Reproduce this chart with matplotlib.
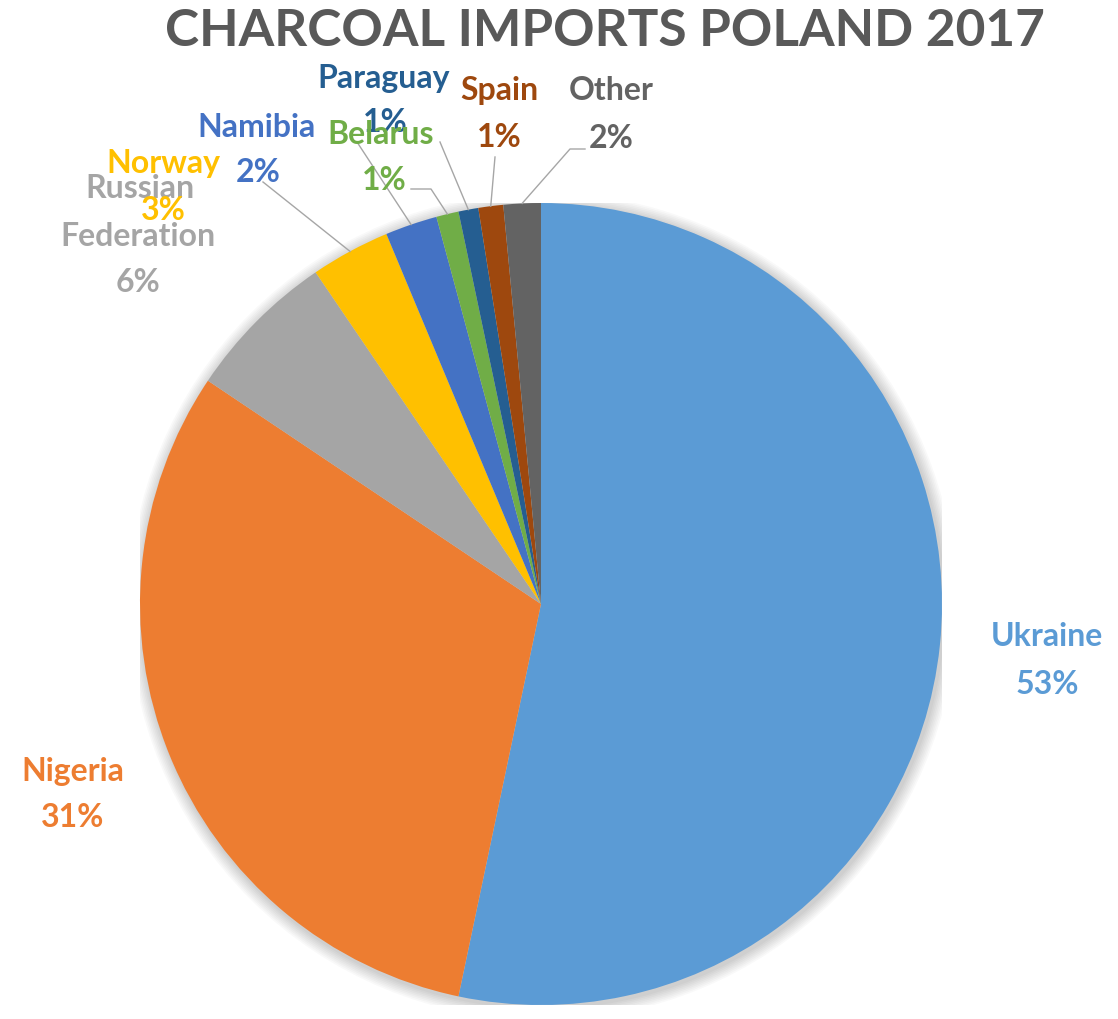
import numpy as np
import matplotlib
matplotlib.use('Agg')
import matplotlib.pyplot as plt
from matplotlib.patches import Circle

# data (percent of imports)
countries = ['Ukraine', 'Nigeria', 'Russian Federation', 'Norway', 'Namibia',
             'Belarus', 'Paraguay', 'Spain', 'Other']
shares = [53.3, 31.1, 6.1, 3.2, 2.1, 0.9, 0.8, 1.0, 1.5]
pct_labels = ['53%', '31%', '6%', '3%', '2%', '1%', '1%', '1%', '2%']
colors = ['#5B9BD5', '#ED7D31', '#A5A5A5', '#FFC000', '#4472C4',
          '#70AD47', '#255E91', '#9E480E', '#636363']

plt.rcParams['font.family'] = ['Lato', 'DejaVu Sans']

W, H = 1118, 1020
cx, cy, R = 541, 605, 401
fig = plt.figure(figsize=(W / 100, H / 100), dpi=100)
ax = fig.add_axes([(cx - R) / W, (H - cy - R) / H, 2 * R / W, 2 * R / H])


def px(x, y):
    # pixel position in the picture -> data coords of the pie axes
    return (x - cx) / R, (cy - y) / R


# soft shadow around the pie
for i in range(8):
    ax.add_patch(Circle((0.004, -0.006), 1.0 + 0.004 * (i + 1), color='black',
                        alpha=0.025, lw=0, zorder=0))

wedges, _ = ax.pie(shares, colors=colors, startangle=90, counterclock=False,
                   radius=1, wedgeprops=dict(linewidth=0), frame=False)
for w in wedges:
    w.set_zorder(2)
ax.set_xlim(-1, 1)
ax.set_ylim(-1, 1)
ax.axis('off')

# label text positions (pixel centres of name and percent lines)
label_pos = {
    'Ukraine': [('Ukraine', 1047, 636), ('53%', 1047, 685)],
    'Nigeria': [('Nigeria', 73, 772), ('31%', 73, 818)],
    'Russian Federation': [('Russian', 140, 188), ('Federation', 138, 237), ('6%', 138, 282)],
    'Norway': [('Norway', 163, 163), ('3%', 163, 210)],
    'Namibia': [('Namibia', 256, 127), ('2%', 258, 172)],
    'Paraguay': [('Paraguay', 384, 78), ('1%', 385, 123)],
    'Belarus': [('Belarus', 381, 134), ('1%', 384, 181)],
    'Spain': [('Spain', 499, 91), ('1%', 499, 137)],
    'Other': [('Other', 611, 91), ('2%', 611, 139)],
}
draw_order = ['Ukraine', 'Nigeria', 'Russian Federation', 'Norway', 'Namibia',
              'Paraguay', 'Belarus', 'Spain', 'Other']
for name in draw_order:
    c = colors[countries.index(name)]
    for txt, x, y in label_pos[name]:
        tx, ty = px(x, y)
        ax.text(tx, ty, txt, color=c, fontsize=23, fontweight='bold',
                ha='center', va='center', clip_on=False, zorder=5)

# leader lines: start near the label, end at the wedge's outer midpoint
leader_start = {
    'Norway': [(263, 183)],
    'Namibia': [(357, 143)],
    'Belarus': [(411, 190), (431, 190)],
    'Paraguay': [(440, 143)],
    'Spain': [(495, 158)],
    'Other': [(585, 150), (570, 150)],
}
cum = np.cumsum([0] + shares)
for name, pts in leader_start.items():
    i = countries.index(name)
    mid = (cum[i] + cum[i + 1]) / 2 / sum(shares) * 360
    ang = np.deg2rad(90 - mid)
    xs = [px(x, y)[0] for x, y in pts] + [np.cos(ang)]
    ys = [px(x, y)[1] for x, y in pts] + [np.sin(ang)]
    ax.plot(xs, ys, color='#A6A6A6', lw=1, clip_on=False, zorder=4)

fig.text(605 / W, 1 - 31 / H, 'CHARCOAL IMPORTS POLAND 2017', color='#595959',
         fontsize=37, fontweight='bold', ha='center', va='center')

fig.savefig('out.png', dpi=100)
